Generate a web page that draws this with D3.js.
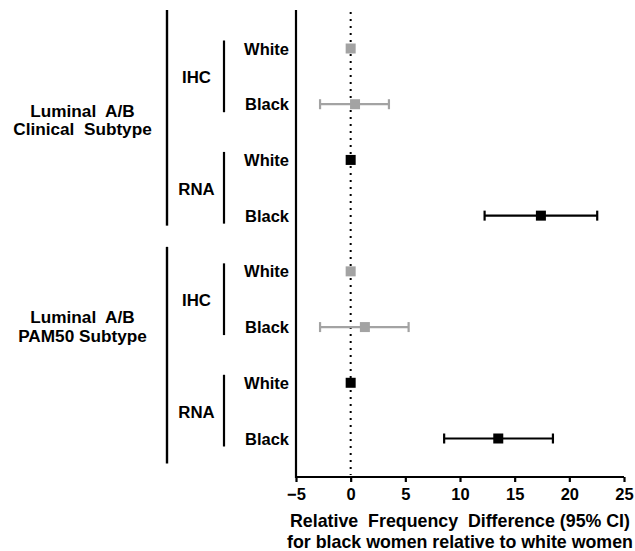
<!DOCTYPE html>
<html><head><meta charset="utf-8">
<script src="https://cdn.jsdelivr.net/npm/d3@7"></script>
<style>
html,body{margin:0;padding:0;background:#fff;}
text{font-family:"Liberation Sans",Arial,sans-serif;font-weight:bold;fill:#000;white-space:pre;}
</style></head>
<body>
<svg id="c" width="635" height="551"></svg>
<script>
// ---- data ----
const rowLabels = ["White","Black","White","Black","White","Black","White","Black"];
const methods = ["IHC","RNA","IHC","RNA"];
const groupLabels = [["Luminal  A/B","Clinical  Subtype"],["Luminal  A/B","PAM50 Subtype"]];
const estimates = [0, 0.4, 0, 17.4, 0, 1.3, 0, 13.5];
const ciLow =     [null, -2.8, null, 12.25, null, -2.8, null, 8.55];
const ciHigh =    [null, 3.5, null, 22.55, null, 5.3, null, 18.5];
const rowColor =  ["gray","gray","black","black","gray","gray","black","black"];
const xTicks = [-5,0,5,10,15,20,25];
const axisTitle = ["Relative  Frequency  Difference (95% CI)","for black women relative to white women"];

const colors = {gray:"#a3a3a3", black:"#000000"};
const svg = d3.select("#c");

const x = d3.scaleLinear().domain([-5,25]).range([296,624]);
const idx = d3.range(rowLabels.length);
const y = d3.scalePoint().domain(idx).range([48.5,438.5]);
const axisY = 477, topY = 10;

// left vertical axis line
svg.append("line").attr("x1",x(-5)).attr("x2",x(-5)).attr("y1",topY).attr("y2",axisY+1)
  .attr("stroke","#000").attr("stroke-width",2.2);

// bottom axis
const ax = svg.append("g").attr("transform",`translate(0,${axisY})`)
  .call(d3.axisBottom(x).tickValues(xTicks).tickSize(5).tickSizeOuter(5).tickPadding(5).tickFormat(d3.format("d")));
ax.select(".domain").attr("stroke-width",2.2).attr("d",`M${x(-5)},0H${x(25)}`);
ax.selectAll(".tick line").attr("stroke-width",2.2);
ax.selectAll(".tick text").style("font-size","16.5px").style("font-family","'Liberation Sans',Arial,sans-serif").style("font-weight","bold").attr("dy","0.8em");

// dotted reference line at 0
svg.append("line").attr("x1",x(0)).attr("x2",x(0)).attr("y1",topY+2).attr("y2",axisY-2)
  .attr("stroke","#000").attr("stroke-width",2).attr("stroke-dasharray","2,5");

// axis title
axisTitle.forEach((t,i)=>{
  svg.append("text").attr("x",460).attr("y",527+i*21).attr("text-anchor","middle")
    .style("font-size","17.8px").text(t);
});

// row labels
idx.forEach(i=>{
  svg.append("text").attr("x",289).attr("y",y(i)+6).attr("text-anchor","end")
    .style("font-size","16.5px").text(rowLabels[i]);
});

// inner brackets + method labels
methods.forEach((m,k)=>{
  const a = y(2*k), b = y(2*k+1);
  svg.append("line").attr("x1",224).attr("x2",224).attr("y1",a-8).attr("y2",b+8)
    .attr("stroke","#000").attr("stroke-width",2.2);
  svg.append("text").attr("x",196.5).attr("y",(a+b)/2+7).attr("text-anchor","middle")
    .style("font-size","16.8px").text(m);
});

// outer brackets
const outer = [[y(0)-38.5, y(3)+10],[y(4)-24.5, y(7)+25]];
outer.forEach(([a,b])=>{
  svg.append("line").attr("x1",167).attr("x2",167).attr("y1",a).attr("y2",b)
    .attr("stroke","#000").attr("stroke-width",2.4);
});
// group labels
const groupY = [116.5, 323];
groupLabels.forEach((lines,g)=>{
  lines.forEach((t,i)=>{
    svg.append("text").attr("x",82.5).attr("y",groupY[g]+i*18.5).attr("text-anchor","middle")
      .style("font-size","17.2px").text(t);
  });
});

// error bars
idx.forEach(i=>{
  if(ciLow[i]==null) return;
  const c = colors[rowColor[i]], yy = y(i);
  const g = svg.append("g").attr("stroke",c).attr("stroke-width",2.2);
  g.append("line").attr("x1",x(ciLow[i])).attr("x2",x(ciHigh[i])).attr("y1",yy).attr("y2",yy);
  [ciLow[i],ciHigh[i]].forEach(v=>{
    g.append("line").attr("x1",x(v)).attr("x2",x(v)).attr("y1",yy-5).attr("y2",yy+5);
  });
});
// points
const s = 10;
svg.selectAll("rect.pt").data(idx).enter().append("rect").attr("class","pt")
  .attr("x",i=>x(estimates[i])-s/2).attr("y",i=>y(i)-s/2).attr("width",s).attr("height",s)
  .attr("fill",i=>colors[rowColor[i]]);
</script>
</body></html>
